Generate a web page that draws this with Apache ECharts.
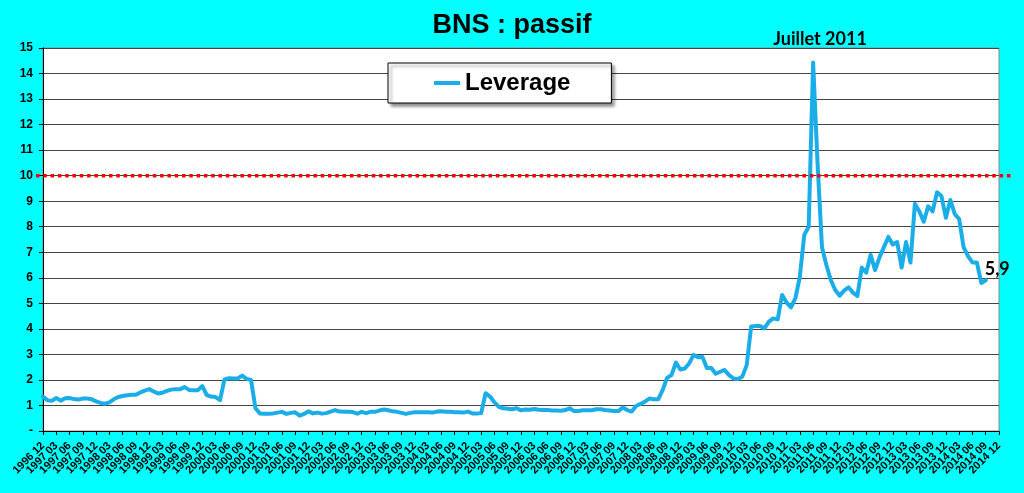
<!DOCTYPE html>
<html>
<head>
<meta charset="utf-8">
<script src="https://cdn.jsdelivr.net/npm/echarts@6/dist/echarts.min.js"></script>
<style>
html,body{margin:0;padding:0;background:#00FFFF;}
#c{width:1024px;height:493px;}
</style>
</head>
<body>
<div id="c"></div>
<script>
// Monthly categories, 1996-12 .. 2014-12 (labels shown every quarter)
const startYear = 1996, startMonth = 12, monthCount = 217;
const categories = [];
for (let k = 0; k < monthCount; k++) {
  const m0 = startMonth - 1 + k;
  const y = startYear + Math.floor(m0 / 12);
  const m = (m0 % 12) + 1;
  categories.push(y + ' ' + (m < 10 ? '0' + m : '' + m));
}

// Leverage, monthly from 1996-12 to 2014-09
const leverage = [
  1.35,1.20,1.18,1.29,1.19,1.28,1.29,1.25,1.23,1.27,1.27,1.24,
  1.16,1.10,1.07,1.12,1.24,1.33,1.37,1.40,1.42,1.42,1.51,1.58,
  1.64,1.55,1.47,1.50,1.57,1.62,1.64,1.64,1.72,1.61,1.60,1.60,
  1.76,1.41,1.35,1.33,1.21,2.02,2.07,2.06,2.06,2.17,2.04,2.00,
  0.89,0.69,0.68,0.68,0.69,0.72,0.75,0.67,0.71,0.73,0.60,0.67,
  0.77,0.69,0.72,0.68,0.70,0.76,0.82,0.76,0.75,0.75,0.74,0.68,
  0.75,0.70,0.75,0.75,0.80,0.84,0.81,0.77,0.75,0.71,0.67,0.71,
  0.73,0.73,0.73,0.73,0.72,0.76,0.77,0.75,0.75,0.73,0.73,0.72,
  0.76,0.69,0.69,0.70,1.48,1.35,1.12,0.95,0.89,0.87,0.85,0.89,
  0.81,0.84,0.83,0.86,0.83,0.82,0.82,0.80,0.80,0.79,0.82,0.89,
  0.78,0.78,0.81,0.81,0.81,0.85,0.85,0.82,0.80,0.78,0.78,0.92,
  0.82,0.76,0.98,1.06,1.15,1.27,1.24,1.24,1.60,2.08,2.19,2.68,
  2.41,2.45,2.65,2.98,2.89,2.90,2.47,2.47,2.24,2.32,2.39,2.19,
  2.06,2.04,2.13,2.58,4.09,4.11,4.11,4.02,4.28,4.41,4.37,5.33,
  5.03,4.84,5.20,6.04,7.68,8.00,14.43,10.5,7.2,6.5,5.91,5.52,
  5.30,5.50,5.63,5.42,5.29,6.4,6.2,6.9,6.3,6.8,7.2,7.6,
  7.3,7.4,6.4,7.4,6.6,8.9,8.6,8.2,8.8,8.6,9.35,9.2,
  8.35,9.05,8.5,8.3,7.2,6.85,6.6,6.6,5.8,5.9
];

const threshold = [10, 10];
const peakLabel = 'Juillet 2011';
const lastLabel = '5,9';
const lastIdx = leverage.length - 1;
const lastCat = categories.length - 1;

const chart = echarts.init(document.getElementById('c'), null, { renderer: 'canvas' });
const font = 'Liberation Sans';
const xLabelStyle = { rotate: 45, margin: 13, hideOverlap: false,
  fontFamily: font, fontWeight: 'bold', fontSize: 11, color: '#000' };
chart.setOption({
  backgroundColor: '#00FFFF',
  animation: false,
  title: {
    text: 'BNS : passif', left: 'center', top: 7,
    textStyle: { fontFamily: font, fontWeight: 'bold', fontSize: 27, color: '#000' }
  },
  legend: {
    data: ['Leverage'],
    left: 388, top: 63,
    padding: [8, 41, 8, 46],
    itemWidth: 26, itemHeight: 4, itemGap: 0,
    icon: 'rect',
    backgroundColor: '#fff', borderColor: '#000', borderWidth: 1,
    shadowColor: 'rgba(0,0,0,0.45)', shadowBlur: 3, shadowOffsetX: 3, shadowOffsetY: 3,
    textStyle: { fontFamily: font, fontWeight: 'bold', fontSize: 24, color: '#000' }
  },
  grid: [
    { left: 43, right: 25, top: 48, bottom: 62, show: true, backgroundColor: '#fff', borderColor: '#888', borderWidth: 1 },
    { left: 36, right: 12, top: 48, bottom: 62, show: false }
  ],
  xAxis: [
    {
      type: 'category', gridIndex: 0, data: categories, boundaryGap: false, position: 'bottom',
      axisLine: { show: true, lineStyle: { color: '#000', width: 1 } },
      axisTick: { show: true, interval: 2, length: 4, lineStyle: { color: '#000' } },
      axisLabel: Object.assign({ interval: 2, showMinLabel: false, showMaxLabel: false }, xLabelStyle),
      splitLine: { show: false }
    },
    { type: 'category', gridIndex: 1, data: ['a', 'b'], boundaryGap: false, show: false },
    {
      type: 'category', gridIndex: 0, data: categories, boundaryGap: false, position: 'bottom', offset: 0,
      axisLine: { show: false },
      axisTick: { show: true, interval: (i) => i === 0 || i === lastCat, length: 4, lineStyle: { color: '#000' } },
      axisLabel: Object.assign({ interval: (i) => i === 0 || i === lastCat, showMinLabel: true, showMaxLabel: true }, xLabelStyle),
      splitLine: { show: false }
    }
  ],
  yAxis: [
    {
      type: 'value', gridIndex: 0, min: 0, max: 15, interval: 1,
      axisLine: { show: true, lineStyle: { color: '#000', width: 1 } },
      axisTick: { show: true, length: 4, lineStyle: { color: '#000' } },
      axisLabel: {
        margin: 10, fontFamily: font, fontWeight: 'bold', fontSize: 12, color: '#000',
        formatter: v => (v === 0 ? '-' : String(v))
      },
      splitLine: { show: true, lineStyle: { color: '#444', width: 1 } }
    },
    { type: 'value', gridIndex: 1, min: 0, max: 15, show: false }
  ],
  series: [
    {
      name: 'Leverage', type: 'line', xAxisIndex: 0, yAxisIndex: 0,
      data: leverage, symbol: 'none', smooth: false,
      color: '#1BADE8',
      lineStyle: { color: '#1BADE8', width: 4, cap: 'round', join: 'round' },
      z: 3,
      markPoint: {
        silent: true,
        symbol: 'circle', symbolSize: 0,
        data: [
          { type: 'max', label: { show: true, position: 'top', distance: 14, offset: [7, 0],
              formatter: peakLabel, fontFamily: 'Lato', fontWeight: 'bold', fontSize: 18, color: '#000' } },
          { coord: [categories[lastIdx], leverage[lastIdx]],
            label: { show: true, position: 'right', distance: 0, offset: [-1, -11],
              formatter: lastLabel, fontFamily: 'Lato', fontWeight: 'bold', fontSize: 18, color: '#000' } }
        ]
      }
    },
    {
      name: 'seuil', type: 'line', xAxisIndex: 1, yAxisIndex: 1,
      data: threshold, symbol: 'none', silent: true,
      lineStyle: { color: '#FF0000', width: 3.5, type: [3.5, 3.8] },
      z: 4
    }
  ]
});
</script>
</body>
</html>
